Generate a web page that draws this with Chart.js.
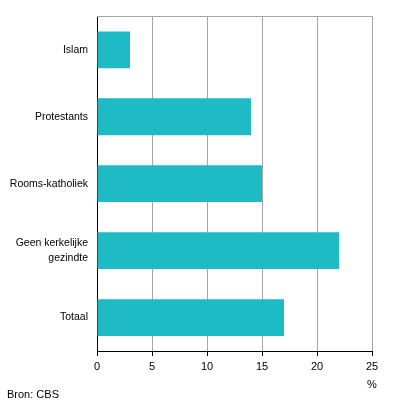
<!DOCTYPE html>
<html>
<head>
<meta charset="utf-8">
<script src="https://cdn.jsdelivr.net/npm/chart.js@4/dist/chart.umd.min.js"></script>
<style>
  html, body { margin: 0; padding: 0; background: #fff; }
  #wrap { width: 396px; height: 410px; }
</style>
</head>
<body>
<div id="wrap"><canvas id="bar_1" width="396" height="410"></canvas></div>
<script>
// categorieen en waarden (%)
const categories = ['Islam', 'Protestants', 'Rooms-katholiek', ['Geen kerkelijke', 'gezindte'], 'Totaal'];
const values = [3, 14, 15, 22, 17];
const xTicks = [0, 5, 10, 15, 20, 25];
const unitLabel = '%';
const sourceLabel = 'Bron: CBS';

const barColor = 'rgb(30, 187, 197)';
const gridColor = '#a6a6a6';
const fontFamily = 'Arial, "Liberation Sans", sans-serif';

// lijn bovenaan plus de teksten onder de grafiek
const extras = {
    id: 'extras',
    afterDraw(chart) {
        const ctx = chart.ctx;
        const area = chart.chartArea;
        const x = chart.scales.x;
        ctx.save();
        ctx.strokeStyle = gridColor;
        ctx.lineWidth = 1;
        ctx.beginPath();
        ctx.moveTo(area.left, Math.round(area.top) + 0.5);
        ctx.lineTo(area.right, Math.round(area.top) + 0.5);
        ctx.stroke();

        ctx.fillStyle = '#000';
        ctx.font = '11px ' + fontFamily;
        ctx.textBaseline = 'middle';
        ctx.textAlign = 'center';
        ctx.fillText(unitLabel, x.getPixelForValue(xTicks[xTicks.length - 1]), 385);
        ctx.textAlign = 'left';
        ctx.fillText(sourceLabel, 7, 395);
        ctx.restore();
    }
};

const Chart_1 = new Chart(document.getElementById('bar_1').getContext('2d'), {
    type: 'bar',
    data: {
        labels: categories,
        datasets: [{
            data: values,
            backgroundColor: barColor,
            borderWidth: 0,
            barPercentage: 0.55,
            categoryPercentage: 1
        }]
    },
    options: {
        indexAxis: 'y',
        responsive: false,
        animation: false,
        layout: { padding: { top: 14, right: 24, left: 0, bottom: 0 } },
        plugins: {
            legend: { display: false },
            tooltip: { enabled: false }
        },
        scales: {
            x: {
                min: 0,
                max: 25,
                afterBuildTicks(scale) {
                    scale.ticks = xTicks.map(v => ({ value: v }));
                },
                afterFit(scale) { scale.height = 59; },
                grid: {
                    color: gridColor,
                    tickColor: '#000',
                    tickLength: 5
                },
                border: { color: '#000', width: 1 },
                ticks: {
                    color: '#000',
                    padding: 4,
                    font: { family: fontFamily, size: 11 }
                }
            },
            y: {
                afterFit(scale) { scale.width = 97; },
                grid: { display: false, drawTicks: false },
                border: { color: '#000', width: 1 },
                ticks: {
                    color: '#000',
                    padding: 9,
                    font: { family: fontFamily, size: 10.5, lineHeight: 1.4 }
                }
            }
        }
    },
    plugins: [extras]
});
</script>
</body>
</html>
